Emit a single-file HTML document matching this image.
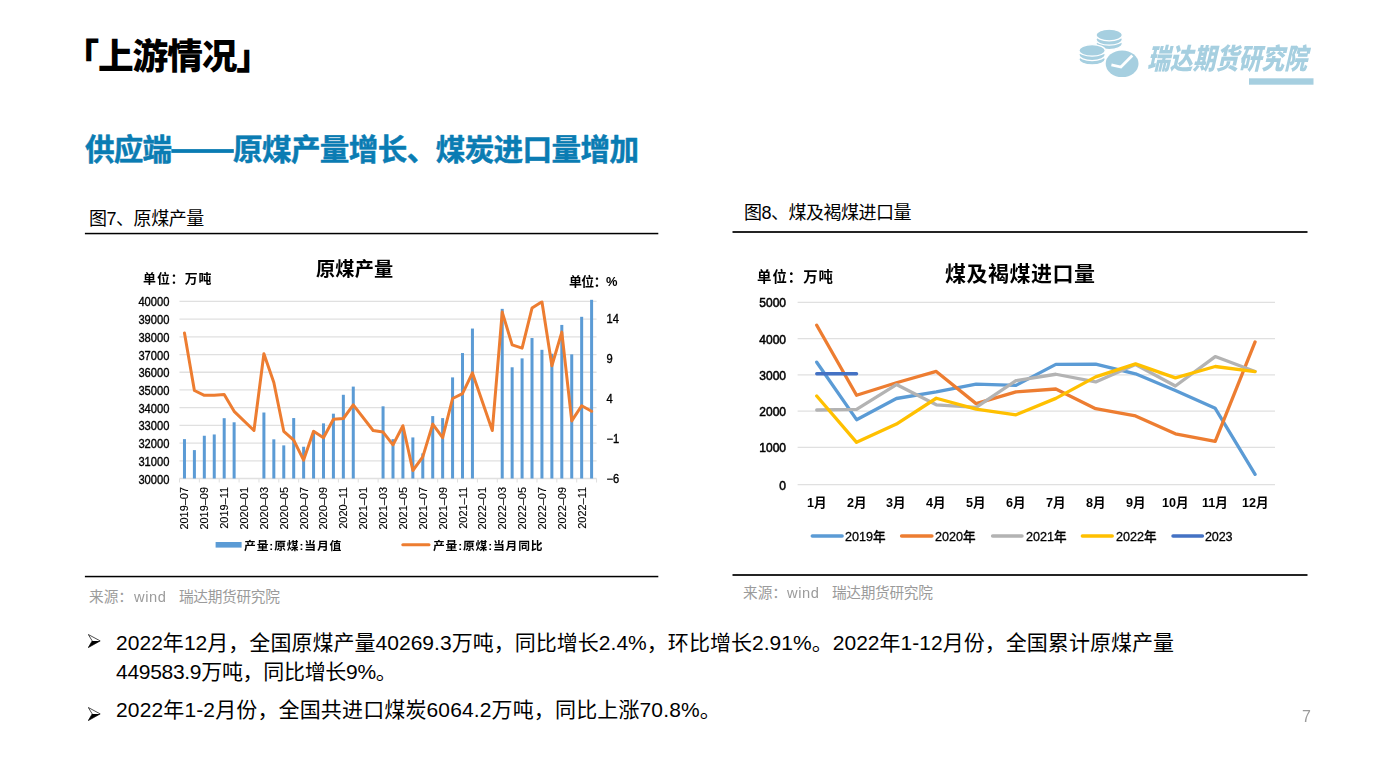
<!DOCTYPE html>
<html lang="zh"><head><meta charset="utf-8"><title>上游情况</title><style>
html,body{margin:0;padding:0;background:#fff;}
body{width:1387px;height:780px;position:relative;overflow:hidden;font-family:"Liberation Sans","Noto Sans CJK SC",sans-serif;}
.g{position:absolute;}
.g svg{position:absolute;left:0;top:0;overflow:visible;display:block;}
.sr{position:absolute;left:0;top:0;width:1px;height:1px;overflow:hidden;clip-path:inset(50%);white-space:nowrap;font-size:1px;color:transparent;}
.a{position:absolute;will-change:transform;}
.ln{position:absolute;background:#111;}
svg text{font-family:"Liberation Sans","Noto Sans CJK SC",sans-serif;}
</style></head>
<body>
<div class="g" style="left:98.06px;top:37.98px;width:138.4px;height:42.8px;"><svg width="138.4" height="42.8"><text x="-34.6" y="31.42" font-size="35.7" font-weight="900" letter-spacing="-1.1" fill="#000">「上游情况」</text></svg></div>
<div class="g" style="left:84.70px;top:134.45px;width:87.0px;height:35.5px;"><svg width="87.0" height="35.5"><text x="0" y="26.05" font-size="29.6" font-weight="bold" fill="#0A7CB3" stroke="#0A7CB3" stroke-width="0.5" stroke-linejoin="round" textLength="87" lengthAdjust="spacing">供应端</text></svg></div>
<div class="g" style="left:233.00px;top:134.45px;width:406.0px;height:35.5px;"><svg width="406.0" height="35.5"><text x="0" y="26.05" font-size="29.6" font-weight="bold" fill="#0A7CB3" stroke="#0A7CB3" stroke-width="0.5" stroke-linejoin="round" textLength="406" lengthAdjust="spacing">原煤产量增长、煤炭进口量增加</text></svg></div>
<div class="g" style="left:88.60px;top:209.06px;width:115.2px;height:21.6px;"><svg width="115.2" height="21.6"><text x="0" y="15.84" font-size="18" fill="#000" textLength="115.2" lengthAdjust="spacing">图7、原煤产量</text></svg></div>
<div class="g" style="left:743.60px;top:202.56px;width:167.4px;height:21.6px;"><svg width="167.4" height="21.6"><text x="0" y="15.84" font-size="18" fill="#000" textLength="167.4" lengthAdjust="spacing">图8、煤及褐煤进口量</text></svg></div>
<div class="g" style="left:89.30px;top:589.29px;width:44.0px;height:17.6px;"><svg width="44.0" height="17.6"><text x="0" y="12.91" font-size="14.67" fill="#9b9b9b">来源：</text></svg></div>
<div class="a" style="left:133.6px;top:588.6px;font-size:14.67px;line-height:17px;letter-spacing:0.6px;color:#9b9b9b;white-space:pre">wind</div>
<div class="g" style="left:178.90px;top:589.29px;width:100.8px;height:17.6px;"><svg width="100.8" height="17.6"><text x="0" y="12.91" font-size="14.67" fill="#9b9b9b" textLength="100.8" lengthAdjust="spacing">瑞达期货研究院</text></svg></div>
<div class="g" style="left:742.50px;top:585.49px;width:44.0px;height:17.6px;"><svg width="44.0" height="17.6"><text x="0" y="12.91" font-size="14.67" fill="#9b9b9b">来源：</text></svg></div>
<div class="a" style="left:786.8px;top:584.8px;font-size:14.67px;line-height:17px;letter-spacing:0.6px;color:#9b9b9b;white-space:pre">wind</div>
<div class="g" style="left:832.10px;top:585.49px;width:100.8px;height:17.6px;"><svg width="100.8" height="17.6"><text x="0" y="12.91" font-size="14.67" fill="#9b9b9b" textLength="100.8" lengthAdjust="spacing">瑞达期货研究院</text></svg></div>
<div class="a" style="left:1301.6px;top:707.8px;font-size:16px;line-height:18px;color:#9b9b9b">7</div>
<svg class="a" style="left:87.8px;top:634.0px" width="14" height="15" viewBox="0 0 14 15"><path d="M0.3 0.5 L12.2 6.9 L0.3 13.6 L4.2 6.9 Z" fill="#fff" stroke="#000" stroke-width="0.7" stroke-linejoin="miter"/><path d="M4.2 6.9 L12.2 6.9 L0.3 13.6 Z" fill="#000"/></svg>
<svg class="a" style="left:87.8px;top:707.2px" width="14" height="15" viewBox="0 0 14 15"><path d="M0.3 0.5 L12.2 6.9 L0.3 13.6 L4.2 6.9 Z" fill="#fff" stroke="#000" stroke-width="0.7" stroke-linejoin="miter"/><path d="M4.2 6.9 L12.2 6.9 L0.3 13.6 Z" fill="#000"/></svg>
<div class="g" style="left:116.40px;top:632.02px;width:1058.4px;height:25.2px;"><svg width="1058.4" height="25.2"><text x="0" y="18.48" font-size="21" fill="#000" textLength="1058" lengthAdjust="spacing">2022年12月，全国原煤产量40269.3万吨，同比增长2.4%，环比增长2.91%。2022年1-12月份，全国累计原煤产量</text></svg></div>
<div class="g" style="left:116.40px;top:660.62px;width:280.8px;height:25.2px;"><svg width="280.8" height="25.2"><text x="0" y="18.48" font-size="21" fill="#000" textLength="280.8" lengthAdjust="spacing">449583.9万吨，同比增长9%。</text></svg></div>
<div class="g" style="left:116.40px;top:699.02px;width:604.8px;height:25.2px;"><svg width="604.8" height="25.2"><text x="0" y="18.48" font-size="21" fill="#000" textLength="604.8" lengthAdjust="spacing">2022年1-2月份，全国共进口煤炭6064.2万吨，同比上涨70.8%。</text></svg></div>
<svg class="a" style="left:0;top:0;will-change:transform" width="1387" height="780" viewBox="0 0 1387 780"><rect x="171.3" y="149.1" width="62.5" height="3.8" fill="#0A7CB3"/><rect x="84.9" y="232.8" width="573.4" height="1.5" fill="#000"/><rect x="84.9" y="575.8" width="573.4" height="1.5" fill="#000"/><rect x="732.5" y="231" width="575" height="2" fill="#242424"/><rect x="732.5" y="574" width="575" height="2" fill="#242424"/><line x1="179.5" y1="301.40" x2="596.6" y2="301.40" stroke="#e0e0e0" stroke-width="1.3"/><line x1="179.5" y1="319.11" x2="596.6" y2="319.11" stroke="#e0e0e0" stroke-width="1.3"/><line x1="179.5" y1="336.82" x2="596.6" y2="336.82" stroke="#e0e0e0" stroke-width="1.3"/><line x1="179.5" y1="354.53" x2="596.6" y2="354.53" stroke="#e0e0e0" stroke-width="1.3"/><line x1="179.5" y1="372.24" x2="596.6" y2="372.24" stroke="#e0e0e0" stroke-width="1.3"/><line x1="179.5" y1="389.95" x2="596.6" y2="389.95" stroke="#e0e0e0" stroke-width="1.3"/><line x1="179.5" y1="407.66" x2="596.6" y2="407.66" stroke="#e0e0e0" stroke-width="1.3"/><line x1="179.5" y1="425.37" x2="596.6" y2="425.37" stroke="#e0e0e0" stroke-width="1.3"/><line x1="179.5" y1="443.08" x2="596.6" y2="443.08" stroke="#e0e0e0" stroke-width="1.3"/><line x1="179.5" y1="460.79" x2="596.6" y2="460.79" stroke="#e0e0e0" stroke-width="1.3"/><line x1="179.5" y1="478.50" x2="596.6" y2="478.50" stroke="#e0e0e0" stroke-width="1.3"/><line x1="179.50" y1="478.50" x2="179.50" y2="482.50" stroke="#e0e0e0" stroke-width="1"/><line x1="199.36" y1="478.50" x2="199.36" y2="482.50" stroke="#e0e0e0" stroke-width="1"/><line x1="219.22" y1="478.50" x2="219.22" y2="482.50" stroke="#e0e0e0" stroke-width="1"/><line x1="239.08" y1="478.50" x2="239.08" y2="482.50" stroke="#e0e0e0" stroke-width="1"/><line x1="258.94" y1="478.50" x2="258.94" y2="482.50" stroke="#e0e0e0" stroke-width="1"/><line x1="278.80" y1="478.50" x2="278.80" y2="482.50" stroke="#e0e0e0" stroke-width="1"/><line x1="298.66" y1="478.50" x2="298.66" y2="482.50" stroke="#e0e0e0" stroke-width="1"/><line x1="318.52" y1="478.50" x2="318.52" y2="482.50" stroke="#e0e0e0" stroke-width="1"/><line x1="338.38" y1="478.50" x2="338.38" y2="482.50" stroke="#e0e0e0" stroke-width="1"/><line x1="358.24" y1="478.50" x2="358.24" y2="482.50" stroke="#e0e0e0" stroke-width="1"/><line x1="378.10" y1="478.50" x2="378.10" y2="482.50" stroke="#e0e0e0" stroke-width="1"/><line x1="397.96" y1="478.50" x2="397.96" y2="482.50" stroke="#e0e0e0" stroke-width="1"/><line x1="417.82" y1="478.50" x2="417.82" y2="482.50" stroke="#e0e0e0" stroke-width="1"/><line x1="437.68" y1="478.50" x2="437.68" y2="482.50" stroke="#e0e0e0" stroke-width="1"/><line x1="457.54" y1="478.50" x2="457.54" y2="482.50" stroke="#e0e0e0" stroke-width="1"/><line x1="477.40" y1="478.50" x2="477.40" y2="482.50" stroke="#e0e0e0" stroke-width="1"/><line x1="497.26" y1="478.50" x2="497.26" y2="482.50" stroke="#e0e0e0" stroke-width="1"/><line x1="517.12" y1="478.50" x2="517.12" y2="482.50" stroke="#e0e0e0" stroke-width="1"/><line x1="536.98" y1="478.50" x2="536.98" y2="482.50" stroke="#e0e0e0" stroke-width="1"/><line x1="556.84" y1="478.50" x2="556.84" y2="482.50" stroke="#e0e0e0" stroke-width="1"/><line x1="576.70" y1="478.50" x2="576.70" y2="482.50" stroke="#e0e0e0" stroke-width="1"/><line x1="596.56" y1="478.50" x2="596.56" y2="482.50" stroke="#e0e0e0" stroke-width="1"/><rect x="182.97" y="439.13" width="3" height="39.37" fill="#5b9bd5"/><rect x="192.90" y="450.11" width="3" height="28.39" fill="#5b9bd5"/><rect x="202.82" y="435.75" width="3" height="42.75" fill="#5b9bd5"/><rect x="212.75" y="434.46" width="3" height="44.04" fill="#5b9bd5"/><rect x="222.69" y="418.18" width="3" height="60.32" fill="#5b9bd5"/><rect x="232.62" y="422.29" width="3" height="56.21" fill="#5b9bd5"/><rect x="262.40" y="412.51" width="3" height="65.99" fill="#5b9bd5"/><rect x="272.33" y="439.33" width="3" height="39.17" fill="#5b9bd5"/><rect x="282.26" y="445.38" width="3" height="33.12" fill="#5b9bd5"/><rect x="292.19" y="418.06" width="3" height="60.44" fill="#5b9bd5"/><rect x="302.12" y="446.73" width="3" height="31.77" fill="#5b9bd5"/><rect x="312.06" y="432.81" width="3" height="45.69" fill="#5b9bd5"/><rect x="321.99" y="423.37" width="3" height="55.13" fill="#5b9bd5"/><rect x="331.91" y="413.68" width="3" height="64.82" fill="#5b9bd5"/><rect x="341.85" y="394.78" width="3" height="83.72" fill="#5b9bd5"/><rect x="351.77" y="386.60" width="3" height="91.90" fill="#5b9bd5"/><rect x="381.56" y="406.31" width="3" height="72.19" fill="#5b9bd5"/><rect x="391.50" y="439.15" width="3" height="39.35" fill="#5b9bd5"/><rect x="401.42" y="428.91" width="3" height="49.59" fill="#5b9bd5"/><rect x="411.36" y="437.43" width="3" height="41.07" fill="#5b9bd5"/><rect x="421.28" y="453.40" width="3" height="25.10" fill="#5b9bd5"/><rect x="431.22" y="416.09" width="3" height="62.41" fill="#5b9bd5"/><rect x="441.14" y="418.11" width="3" height="60.39" fill="#5b9bd5"/><rect x="451.07" y="377.39" width="3" height="101.11" fill="#5b9bd5"/><rect x="461.00" y="353.04" width="3" height="125.46" fill="#5b9bd5"/><rect x="470.94" y="328.55" width="3" height="149.95" fill="#5b9bd5"/><rect x="500.72" y="308.86" width="3" height="169.64" fill="#5b9bd5"/><rect x="510.65" y="367.28" width="3" height="111.22" fill="#5b9bd5"/><rect x="520.59" y="358.37" width="3" height="120.13" fill="#5b9bd5"/><rect x="530.51" y="338.04" width="3" height="140.46" fill="#5b9bd5"/><rect x="540.44" y="349.82" width="3" height="128.68" fill="#5b9bd5"/><rect x="550.38" y="353.75" width="3" height="124.75" fill="#5b9bd5"/><rect x="560.31" y="324.92" width="3" height="153.58" fill="#5b9bd5"/><rect x="570.24" y="354.35" width="3" height="124.15" fill="#5b9bd5"/><rect x="580.16" y="316.81" width="3" height="161.69" fill="#5b9bd5"/><rect x="590.10" y="299.81" width="3" height="178.69" fill="#5b9bd5"/><clipPath id="c1"><rect x="179.5" y="300.6" width="419.1" height="180.1"/></clipPath><polyline clip-path="url(#c1)" points="184.47,332.90 194.40,390.50 204.32,395.30 214.25,395.30 224.19,394.50 234.12,411.30 253.97,430.50 263.90,353.70 273.83,382.50 283.76,431.30 293.69,440.10 303.62,460.10 313.56,431.30 323.49,437.70 333.41,419.30 343.35,418.50 353.27,404.90 373.13,430.50 383.06,432.10 393.00,444.90 402.92,425.70 412.86,470.50 422.78,456.90 432.72,424.10 442.64,437.70 452.57,398.50 462.50,393.70 472.44,372.90 492.30,430.50 502.22,312.10 512.15,344.90 522.09,348.10 532.01,308.10 541.94,301.70 551.88,365.70 561.81,332.10 571.74,420.90 581.66,405.70 591.60,411.30" fill="none" stroke="#ed7d31" stroke-width="3.0" stroke-linejoin="round" stroke-linecap="round"/><text transform="translate(169.4,306.40) scale(0.93,1)" font-size="12" text-anchor="end" fill="#000" stroke="#000" stroke-width="0.35">40000</text><text transform="translate(169.4,324.11) scale(0.93,1)" font-size="12" text-anchor="end" fill="#000" stroke="#000" stroke-width="0.35">39000</text><text transform="translate(169.4,341.82) scale(0.93,1)" font-size="12" text-anchor="end" fill="#000" stroke="#000" stroke-width="0.35">38000</text><text transform="translate(169.4,359.53) scale(0.93,1)" font-size="12" text-anchor="end" fill="#000" stroke="#000" stroke-width="0.35">37000</text><text transform="translate(169.4,377.24) scale(0.93,1)" font-size="12" text-anchor="end" fill="#000" stroke="#000" stroke-width="0.35">36000</text><text transform="translate(169.4,394.95) scale(0.93,1)" font-size="12" text-anchor="end" fill="#000" stroke="#000" stroke-width="0.35">35000</text><text transform="translate(169.4,412.66) scale(0.93,1)" font-size="12" text-anchor="end" fill="#000" stroke="#000" stroke-width="0.35">34000</text><text transform="translate(169.4,430.37) scale(0.93,1)" font-size="12" text-anchor="end" fill="#000" stroke="#000" stroke-width="0.35">33000</text><text transform="translate(169.4,448.08) scale(0.93,1)" font-size="12" text-anchor="end" fill="#000" stroke="#000" stroke-width="0.35">32000</text><text transform="translate(169.4,465.79) scale(0.93,1)" font-size="12" text-anchor="end" fill="#000" stroke="#000" stroke-width="0.35">31000</text><text transform="translate(169.4,483.50) scale(0.93,1)" font-size="12" text-anchor="end" fill="#000" stroke="#000" stroke-width="0.35">30000</text><text transform="translate(606.5,323.10) scale(0.93,1)" font-size="12" fill="#000" stroke="#000" stroke-width="0.35">14</text><text transform="translate(606.5,363.10) scale(0.93,1)" font-size="12" fill="#000" stroke="#000" stroke-width="0.35">9</text><text transform="translate(606.5,403.10) scale(0.93,1)" font-size="12" fill="#000" stroke="#000" stroke-width="0.35">4</text><text transform="translate(606.5,443.10) scale(0.93,1)" font-size="12" fill="#000" stroke="#000" stroke-width="0.35">−1</text><text transform="translate(606.5,483.10) scale(0.93,1)" font-size="12" fill="#000" stroke="#000" stroke-width="0.35">−6</text><text transform="translate(188.47,487) rotate(-90) scale(0.96,1)" font-size="11.4" text-anchor="end" fill="#000" stroke="#000" stroke-width="0.12">2019–07</text><text transform="translate(208.32,487) rotate(-90) scale(0.96,1)" font-size="11.4" text-anchor="end" fill="#000" stroke="#000" stroke-width="0.12">2019–09</text><text transform="translate(228.19,487) rotate(-90) scale(0.96,1)" font-size="11.4" text-anchor="end" fill="#000" stroke="#000" stroke-width="0.12">2019–11</text><text transform="translate(248.05,487) rotate(-90) scale(0.96,1)" font-size="11.4" text-anchor="end" fill="#000" stroke="#000" stroke-width="0.12">2020–01</text><text transform="translate(267.90,487) rotate(-90) scale(0.96,1)" font-size="11.4" text-anchor="end" fill="#000" stroke="#000" stroke-width="0.12">2020–03</text><text transform="translate(287.76,487) rotate(-90) scale(0.96,1)" font-size="11.4" text-anchor="end" fill="#000" stroke="#000" stroke-width="0.12">2020–05</text><text transform="translate(307.62,487) rotate(-90) scale(0.96,1)" font-size="11.4" text-anchor="end" fill="#000" stroke="#000" stroke-width="0.12">2020–07</text><text transform="translate(327.49,487) rotate(-90) scale(0.96,1)" font-size="11.4" text-anchor="end" fill="#000" stroke="#000" stroke-width="0.12">2020–09</text><text transform="translate(347.35,487) rotate(-90) scale(0.96,1)" font-size="11.4" text-anchor="end" fill="#000" stroke="#000" stroke-width="0.12">2020–11</text><text transform="translate(367.20,487) rotate(-90) scale(0.96,1)" font-size="11.4" text-anchor="end" fill="#000" stroke="#000" stroke-width="0.12">2021–01</text><text transform="translate(387.06,487) rotate(-90) scale(0.96,1)" font-size="11.4" text-anchor="end" fill="#000" stroke="#000" stroke-width="0.12">2021–03</text><text transform="translate(406.92,487) rotate(-90) scale(0.96,1)" font-size="11.4" text-anchor="end" fill="#000" stroke="#000" stroke-width="0.12">2021–05</text><text transform="translate(426.78,487) rotate(-90) scale(0.96,1)" font-size="11.4" text-anchor="end" fill="#000" stroke="#000" stroke-width="0.12">2021–07</text><text transform="translate(446.64,487) rotate(-90) scale(0.96,1)" font-size="11.4" text-anchor="end" fill="#000" stroke="#000" stroke-width="0.12">2021–09</text><text transform="translate(466.50,487) rotate(-90) scale(0.96,1)" font-size="11.4" text-anchor="end" fill="#000" stroke="#000" stroke-width="0.12">2021–11</text><text transform="translate(486.37,487) rotate(-90) scale(0.96,1)" font-size="11.4" text-anchor="end" fill="#000" stroke="#000" stroke-width="0.12">2022–01</text><text transform="translate(506.22,487) rotate(-90) scale(0.96,1)" font-size="11.4" text-anchor="end" fill="#000" stroke="#000" stroke-width="0.12">2022–03</text><text transform="translate(526.09,487) rotate(-90) scale(0.96,1)" font-size="11.4" text-anchor="end" fill="#000" stroke="#000" stroke-width="0.12">2022–05</text><text transform="translate(545.94,487) rotate(-90) scale(0.96,1)" font-size="11.4" text-anchor="end" fill="#000" stroke="#000" stroke-width="0.12">2022–07</text><text transform="translate(565.81,487) rotate(-90) scale(0.96,1)" font-size="11.4" text-anchor="end" fill="#000" stroke="#000" stroke-width="0.12">2022–09</text><text transform="translate(585.66,487) rotate(-90) scale(0.96,1)" font-size="11.4" text-anchor="end" fill="#000" stroke="#000" stroke-width="0.12">2022–11</text><rect x="215.6" y="542" width="26" height="5.6" fill="#5b9bd5"/><line x1="402.8" y1="544.7" x2="429" y2="544.7" stroke="#ed7d31" stroke-width="3.0" stroke-linecap="round"/><line x1="797.6" y1="302.30" x2="1275.0" y2="302.30" stroke="#e0e0e0" stroke-width="1.3"/><line x1="797.6" y1="338.60" x2="1275.0" y2="338.60" stroke="#e0e0e0" stroke-width="1.3"/><line x1="797.6" y1="374.90" x2="1275.0" y2="374.90" stroke="#e0e0e0" stroke-width="1.3"/><line x1="797.6" y1="411.10" x2="1275.0" y2="411.10" stroke="#e0e0e0" stroke-width="1.3"/><line x1="797.6" y1="447.40" x2="1275.0" y2="447.40" stroke="#e0e0e0" stroke-width="1.3"/><line x1="797.6" y1="484.60" x2="1275.0" y2="484.60" stroke="#e0e0e0" stroke-width="1.3"/><polyline points="816.72,362.19 856.57,419.67 896.42,398.50 936.27,391.91 976.12,384.06 1015.97,385.40 1055.83,364.41 1095.67,364.19 1135.53,373.85 1175.38,390.50 1215.22,408.28 1255.08,474.30" fill="none" stroke="#5b9bd5" stroke-width="3.3" stroke-linejoin="round" stroke-linecap="round"/><polyline points="816.72,325.24 856.57,395.24 896.42,382.76 936.27,371.45 976.12,403.64 1015.97,391.95 1055.83,389.02 1095.67,408.71 1135.53,415.89 1175.38,433.86 1215.22,441.34 1255.08,341.94" fill="none" stroke="#ed7d31" stroke-width="3.3" stroke-linejoin="round" stroke-linecap="round"/><polyline points="816.72,410.01 856.57,409.36 896.42,384.57 936.27,404.84 976.12,407.34 1015.97,380.73 1055.83,374.25 1095.67,381.96 1135.53,364.45 1175.38,385.98 1215.22,356.57 1255.08,371.45" fill="none" stroke="#b3b3b3" stroke-width="3.3" stroke-linejoin="round" stroke-linecap="round"/><polyline points="816.72,396.04 856.57,442.32 896.42,424.10 936.27,398.25 976.12,409.11 1015.97,414.80 1055.83,398.36 1095.67,376.85 1135.53,363.83 1175.38,377.87 1215.22,366.51 1255.08,371.60" fill="none" stroke="#ffc000" stroke-width="3.3" stroke-linejoin="round" stroke-linecap="round"/><polyline points="816.72,373.74 856.57,373.74" fill="none" stroke="#4472c4" stroke-width="3.3" stroke-linejoin="round" stroke-linecap="round"/><text x="786" y="307.30" font-size="12" text-anchor="end" fill="#000" stroke="#000" stroke-width="0.5">5000</text><text x="786" y="343.60" font-size="12" text-anchor="end" fill="#000" stroke="#000" stroke-width="0.5">4000</text><text x="786" y="379.90" font-size="12" text-anchor="end" fill="#000" stroke="#000" stroke-width="0.5">3000</text><text x="786" y="416.10" font-size="12" text-anchor="end" fill="#000" stroke="#000" stroke-width="0.5">2000</text><text x="786" y="452.40" font-size="12" text-anchor="end" fill="#000" stroke="#000" stroke-width="0.5">1000</text><text x="786" y="489.60" font-size="12" text-anchor="end" fill="#000" stroke="#000" stroke-width="0.5">0</text><line x1="812.3" y1="536.1" x2="842.1" y2="536.1" stroke="#5b9bd5" stroke-width="3.5" stroke-linecap="round"/><line x1="901.6" y1="536.1" x2="931.9" y2="536.1" stroke="#ed7d31" stroke-width="3.5" stroke-linecap="round"/><line x1="992.6" y1="536.1" x2="1022.0" y2="536.1" stroke="#b3b3b3" stroke-width="3.5" stroke-linecap="round"/><line x1="1082.4" y1="536.1" x2="1112.2" y2="536.1" stroke="#ffc000" stroke-width="3.5" stroke-linecap="round"/><line x1="1173.0" y1="536.1" x2="1202.4" y2="536.1" stroke="#4472c4" stroke-width="3.5" stroke-linecap="round"/><ellipse cx="1109.2" cy="43.8" rx="13.2" ry="5.8" fill="#a6cfe0" stroke="#fff" stroke-width="1.3"/><ellipse cx="1109.2" cy="39.4" rx="13.2" ry="5.8" fill="#a6cfe0" stroke="#fff" stroke-width="1.3"/><ellipse cx="1109.2" cy="35.0" rx="13.2" ry="5.8" fill="#a6cfe0" stroke="#fff" stroke-width="1.3"/><ellipse cx="1092.1" cy="59.2" rx="13.2" ry="5.8" fill="#a6cfe0" stroke="#fff" stroke-width="1.3"/><ellipse cx="1092.1" cy="54.8" rx="13.2" ry="5.8" fill="#a6cfe0" stroke="#fff" stroke-width="1.3"/><ellipse cx="1092.1" cy="50.4" rx="13.2" ry="5.8" fill="#a6cfe0" stroke="#fff" stroke-width="1.3"/><ellipse cx="1122.1" cy="63.75" rx="17.9" ry="14.8" fill="#fff"/><ellipse cx="1122.1" cy="63.75" rx="16.4" ry="13.3" fill="#a6cfe0"/><path d="M1111.4 64.9 L1120.9 67.0 L1132.3 55.6" fill="none" stroke="#fff" stroke-width="2.8" stroke-linejoin="miter"/><rect x="1249" y="78.3" width="64.5" height="6.4" fill="#a6cfe0"/></svg>
<div class="g" style="left:1146.60px;top:43.92px;width:160.3px;height:34.2px;"><svg width="160.3" height="34.2"><text transform="translate(0,25.08) skewX(-13) scale(0.8,1)" x="0" y="0" font-size="28.5" font-weight="900" fill="#a6cfe0" textLength="200" lengthAdjust="spacing">瑞达期货研究院</text></svg></div>
<div class="g" style="left:316.20px;top:259.30px;width:77.2px;height:23.0px;"><svg width="77.2" height="23.0"><text x="0" y="16.90" font-size="19.2" font-weight="bold" fill="#000" textLength="77.2" lengthAdjust="spacing">原煤产量</text></svg></div>
<div class="g" style="left:143.20px;top:271.85px;width:68.5px;height:15.5px;"><svg width="68.5" height="15.5"><text x="0" y="11.35" font-size="12.9" font-weight="bold" fill="#000" textLength="68.5" lengthAdjust="spacing">单位：万吨</text></svg></div>
<div class="g" style="left:569.30px;top:274.85px;width:48.5px;height:15.5px;"><svg width="48.5" height="15.5"><text x="0" y="11.35" font-size="12.9" font-weight="bold" fill="#000" textLength="48.5" lengthAdjust="spacing">单位：%</text></svg></div>
<div class="g" style="left:244.40px;top:539.82px;width:97.4px;height:14.2px;"><svg width="97.4" height="14.2"><text x="0" y="10.38" font-size="11.8" font-weight="bold" fill="#000" textLength="97.4" lengthAdjust="spacing">产量:原煤:当月值</text></svg></div>
<div class="g" style="left:432.80px;top:539.62px;width:109.6px;height:14.2px;"><svg width="109.6" height="14.2"><text x="0" y="10.38" font-size="11.8" font-weight="bold" fill="#000" textLength="109.6" lengthAdjust="spacing">产量:原煤:当月同比</text></svg></div>
<div class="g" style="left:944.80px;top:263.22px;width:150.1px;height:25.2px;"><svg width="150.1" height="25.2"><text x="0" y="18.48" font-size="21" font-weight="bold" fill="#000" textLength="150.1" lengthAdjust="spacing">煤及褐煤进口量</text></svg></div>
<div class="g" style="left:756.80px;top:269.03px;width:76.0px;height:17.3px;"><svg width="76.0" height="17.3"><text x="0" y="12.67" font-size="14.4" font-weight="bold" fill="#000" textLength="76" lengthAdjust="spacing">单位：万吨</text></svg></div>
<div class="g" style="left:806.72px;top:496.21px;width:19.4px;height:15.1px;"><svg width="19.4" height="15.1"><text x="0" y="11.09" font-size="12.6" font-weight="bold" fill="#000">1月</text></svg></div>
<div class="g" style="left:846.57px;top:496.21px;width:19.4px;height:15.1px;"><svg width="19.4" height="15.1"><text x="0" y="11.09" font-size="12.6" font-weight="bold" fill="#000">2月</text></svg></div>
<div class="g" style="left:886.42px;top:496.21px;width:19.4px;height:15.1px;"><svg width="19.4" height="15.1"><text x="0" y="11.09" font-size="12.6" font-weight="bold" fill="#000">3月</text></svg></div>
<div class="g" style="left:926.27px;top:496.21px;width:19.4px;height:15.1px;"><svg width="19.4" height="15.1"><text x="0" y="11.09" font-size="12.6" font-weight="bold" fill="#000">4月</text></svg></div>
<div class="g" style="left:966.12px;top:496.21px;width:19.4px;height:15.1px;"><svg width="19.4" height="15.1"><text x="0" y="11.09" font-size="12.6" font-weight="bold" fill="#000">5月</text></svg></div>
<div class="g" style="left:1005.97px;top:496.21px;width:19.4px;height:15.1px;"><svg width="19.4" height="15.1"><text x="0" y="11.09" font-size="12.6" font-weight="bold" fill="#000">6月</text></svg></div>
<div class="g" style="left:1045.83px;top:496.21px;width:19.4px;height:15.1px;"><svg width="19.4" height="15.1"><text x="0" y="11.09" font-size="12.6" font-weight="bold" fill="#000">7月</text></svg></div>
<div class="g" style="left:1085.67px;top:496.21px;width:19.4px;height:15.1px;"><svg width="19.4" height="15.1"><text x="0" y="11.09" font-size="12.6" font-weight="bold" fill="#000">8月</text></svg></div>
<div class="g" style="left:1125.53px;top:496.21px;width:19.4px;height:15.1px;"><svg width="19.4" height="15.1"><text x="0" y="11.09" font-size="12.6" font-weight="bold" fill="#000">9月</text></svg></div>
<div class="g" style="left:1161.92px;top:496.21px;width:26.3px;height:15.1px;"><svg width="26.3" height="15.1"><text x="0" y="11.09" font-size="12.6" font-weight="bold" fill="#000">10月</text></svg></div>
<div class="g" style="left:1201.77px;top:496.21px;width:26.3px;height:15.1px;"><svg width="26.3" height="15.1"><text x="0" y="11.09" font-size="12.6" font-weight="bold" fill="#000">11月</text></svg></div>
<div class="g" style="left:1241.62px;top:496.21px;width:26.3px;height:15.1px;"><svg width="26.3" height="15.1"><text x="0" y="11.09" font-size="12.6" font-weight="bold" fill="#000">12月</text></svg></div>
<div class="g" style="left:844.50px;top:530.31px;width:40.6px;height:15.1px;"><svg width="40.6" height="15.1"><text x="0" y="11.09" font-size="12.6" font-weight="500" fill="#000" stroke="#000" stroke-width="0.3" stroke-linejoin="round" textLength="40.6" lengthAdjust="spacing">2019年</text></svg></div>
<div class="g" style="left:935.20px;top:530.31px;width:40.6px;height:15.1px;"><svg width="40.6" height="15.1"><text x="0" y="11.09" font-size="12.6" font-weight="500" fill="#000" stroke="#000" stroke-width="0.3" stroke-linejoin="round" textLength="40.6" lengthAdjust="spacing">2020年</text></svg></div>
<div class="g" style="left:1026.30px;top:530.31px;width:40.6px;height:15.1px;"><svg width="40.6" height="15.1"><text x="0" y="11.09" font-size="12.6" font-weight="500" fill="#000" stroke="#000" stroke-width="0.3" stroke-linejoin="round" textLength="40.6" lengthAdjust="spacing">2021年</text></svg></div>
<div class="g" style="left:1115.60px;top:530.31px;width:40.6px;height:15.1px;"><svg width="40.6" height="15.1"><text x="0" y="11.09" font-size="12.6" font-weight="500" fill="#000" stroke="#000" stroke-width="0.3" stroke-linejoin="round" textLength="40.6" lengthAdjust="spacing">2022年</text></svg></div>
<div class="g" style="left:1205.20px;top:530.31px;width:27.6px;height:15.1px;"><svg width="27.6" height="15.1"><text x="0" y="11.09" font-size="12.6" font-weight="500" fill="#000" stroke="#000" stroke-width="0.3" stroke-linejoin="round" textLength="27.6" lengthAdjust="spacing">2023</text></svg></div>
</body></html>
